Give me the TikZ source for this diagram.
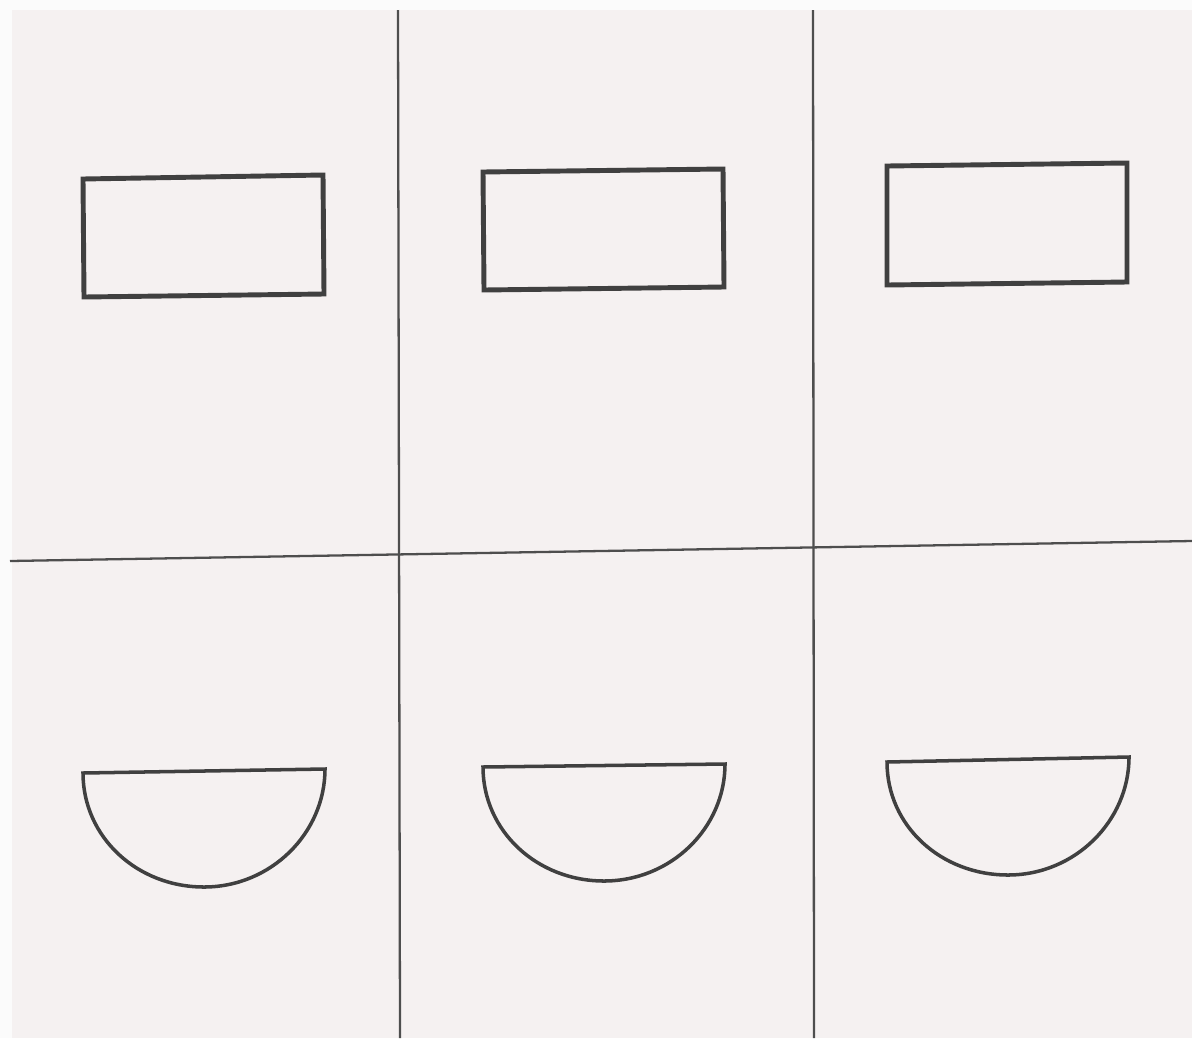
\documentclass[tikz,border=0pt]{standalone}
\usepackage{tikz}
\definecolor{paper}{HTML}{F5F1F1}
\definecolor{edge}{HTML}{FBFBFB}
\definecolor{gridink}{HTML}{4E4E4E}
\definecolor{shapeink}{HTML}{404040}
\tikzset{
  gridline/.style={draw=gridink, line width=1.3pt},
  figline/.style={draw=shapeink, line width=2.8pt, line join=miter},
  halfline/.style={draw=shapeink, line width=2.0pt, line join=miter},
}
\begin{document}
\begin{tikzpicture}[x=0.02cm, y=-0.02cm]
  % page and scanned paper
  \fill[edge] (0,0) rectangle (1192,1038);
  \fill[paper] (12,10) rectangle (1192,1038);
  \useasboundingbox (0,0) rectangle (1192,1038);

  % grid lines
  \coordinate (v1t) at (398,10);   \coordinate (v1b) at (400,1038);
  \coordinate (v2t) at (813,10);   \coordinate (v2b) at (814,1038);
  \coordinate (hl)  at (10,561);   \coordinate (hr)  at (1192,541);
  \draw[gridline] (v1t) -- (v1b);
  \draw[gridline] (v2t) -- (v2b);
  \draw[gridline] (hl) -- (hr);

  % rectangles (top row)
  \draw[figline] (83,179) -- (323,175) -- (324,294) -- (84,297) -- cycle;
  \draw[figline] (483,172) -- (723,169) -- (724,287) -- (484,290) -- cycle;
  \draw[figline] (887,166) -- (1127,163) -- (1127,282) -- (887,285) -- cycle;

  % half discs (bottom row)
  \draw[halfline] (83,773) -- (325,769)
     .. controls (325,833) and (271,887) .. (204,887)
     .. controls (137,887) and (83,837) .. cycle;
  \draw[halfline] (483,767) -- (725,764)
     .. controls (725,828) and (671,881) .. (604,881)
     .. controls (537,881) and (483,831) .. cycle;
  \draw[halfline] (887,762) -- (1129,757)
     .. controls (1129,821) and (1075,875) .. (1008,875)
     .. controls (941,875) and (887,826) .. cycle;
\end{tikzpicture}
\end{document}
